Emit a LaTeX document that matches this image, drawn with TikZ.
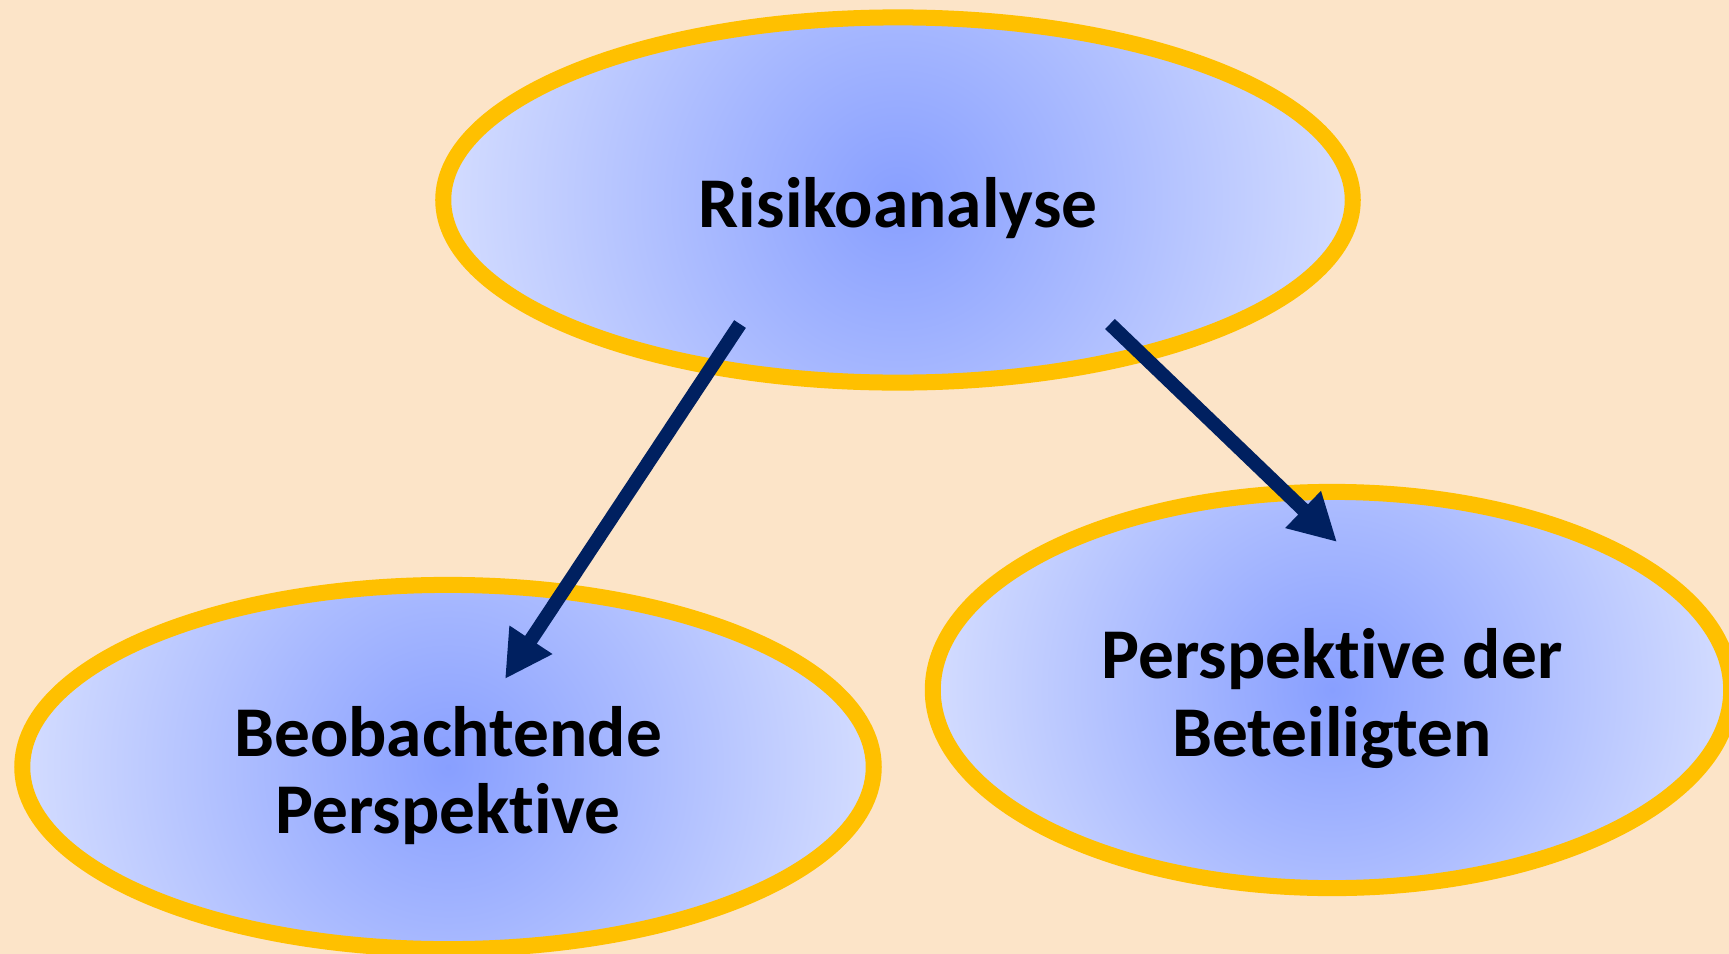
\documentclass[tikz,border=0pt]{standalone}
\usepackage{fontspec}
\setmainfont{Carlito}[Ligatures=NoCommon]
\usetikzlibrary{shapes.geometric, arrows.meta, positioning, calc}

\definecolor{peach}{HTML}{FCE4C8}
\definecolor{ovalgold}{HTML}{FFC000}
\definecolor{ovalin}{HTML}{889FFF}
\definecolor{ovalout}{HTML}{D3DCFF}
\definecolor{arrownavy}{HTML}{002060}

\begin{document}
\begin{tikzpicture}[x=0.01cm, y=-0.01cm,
    oval/.style={ellipse, draw=ovalgold, line width=0.16cm, inner sep=0pt, align=center,
        font=\fontsize{20.3}{22.1}\selectfont\bfseries,
        path picture={\shade[inner color=ovalin, outer color=ovalout]
            let \p1=(path picture bounding box.east), \p2=(path picture bounding box.center)
            in (\p2) circle ({\x1-\x2});}},
    link/.style={arrownavy, line width=0.14cm, -{Triangle[length=0.47cm, width=0.48cm]}}]
        % Background
        \useasboundingbox (0,0) rectangle (1729,954);
        \clip (0,0) rectangle (1729,954);
        \fill[peach] (0,0) rectangle (1729,954);

        % Ovals
        \node[oval, text height=18.7pt, minimum width=9.09cm, minimum height=3.65cm] (risiko) at (898,200) {Risikoanalyse};
        \node[oval, text height=41.2pt, minimum width=8.51cm, minimum height=3.64cm] (beob) at (448,767) {Beobachtende\\Perspektive};
        \node[oval, text height=41.2pt, minimum width=7.98cm, minimum height=3.96cm] (betei) at (1332,690) {Perspektive der\\Beteiligten};

        % Arrows
        \draw[link] ([shift={(-158,124)}]risiko.center) -- ([shift={(57,-88)}]beob.center);
        \draw[link] ([shift={(212,124)}]risiko.center) -- ([shift={(5,-148)}]betei.center);

    \end{tikzpicture}
\end{document}
